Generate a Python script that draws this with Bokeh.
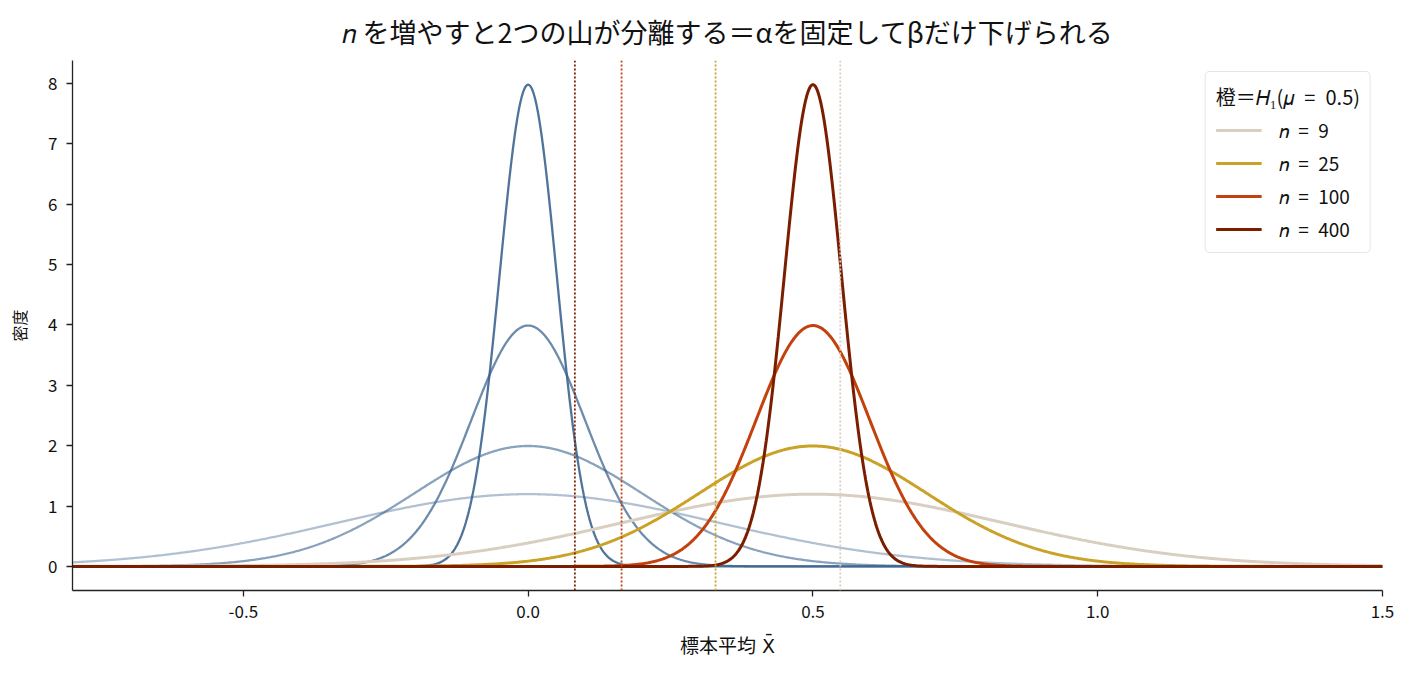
import numpy as np
from bokeh.plotting import figure
from bokeh.models import Span, FixedTicker, Legend, LegendItem, Range1d
from bokeh.embed import file_html
from bokeh.resources import INLINE

# ---- data ----
n_values = [9, 25, 100, 400]
mu0 = 0.0          # H0 mean
mu1 = 0.5          # H1 mean
sigma = 1.0        # population sd
crit_values = [0.548, 0.329, 0.164, 0.082]   # one-sided alpha=0.05 cut-offs
legend_labels = ["𝑛\u2002=\u20029", "𝑛\u2002=\u200225", "𝑛\u2002=\u2002100", "𝑛\u2002=\u2002400"]
x_ticks = [-0.5, 0.0, 0.5, 1.0, 1.5]
x_tick_labels = ["-0.5", "0.0", "0.5", "1.0", "1.5"]
y_ticks = [0, 1, 2, 3, 4, 5, 6, 7, 8]

# ---- styles ----
h1_colors = ["#d9cfc1", "#c9a227", "#c2410c", "#7b1e00"]
h0_color = "#3c648f"
h0_alphas = [0.4, 0.6, 0.75, 0.9]
FONT = "Noto Sans CJK JP"

x = np.linspace(-0.8, 1.5, 1200)


def pdf(xx, mu, se):
    return np.exp(-0.5 * ((xx - mu) / se) ** 2) / (se * np.sqrt(2 * np.pi))


p = figure(width=1394, height=658, output_backend="svg", toolbar_location=None,
           x_range=Range1d(-0.8, 1.5), y_range=Range1d(-0.399, 8.379),
           frame_width=1310, frame_height=530)
p.min_border_left = 72
p.min_border_right = 12
p.min_border_bottom = 60
p.min_border_top = 59

p.title.text = "𝑛 を増やすと2つの山が分離する＝αを固定してβだけ下げられる"
p.title.align = "center"
p.title.text_font = FONT
p.title.text_font_size = "27px"
p.title.text_font_style = "normal"
p.title.text_color = "#111111"
p.title.standoff = 19

p.grid.visible = False
p.outline_line_color = None
p.background_fill_color = "white"
p.border_fill_color = "white"

for ax in (p.xaxis[0], p.yaxis[0]):
    ax.axis_line_color = "#222222"
    ax.axis_line_width = 1.3
    ax.major_tick_line_color = "#222222"
    ax.major_tick_line_width = 1.3
    ax.major_tick_out = 6
    ax.major_tick_in = 0
    ax.minor_tick_line_color = None
    ax.major_label_text_font = FONT
    ax.major_label_text_font_size = "17px"
    ax.major_label_text_color = "#111111"
    ax.axis_label_text_font = FONT
    ax.axis_label_text_font_style = "normal"
    ax.axis_label_text_color = "#111111"

p.xaxis.ticker = FixedTicker(ticks=x_ticks)
p.xaxis.major_label_overrides = {t: l for t, l in zip(x_ticks, x_tick_labels)}
p.xaxis.major_label_standoff = 8
p.xaxis.axis_label_standoff = 14
p.xaxis.axis_label_text_font_size = "19px"
p.xaxis.axis_label_text_font = "DejaVu Sans, Noto Sans CJK JP"
p.yaxis.ticker = FixedTicker(ticks=y_ticks)
p.yaxis.major_label_standoff = 9
p.yaxis.axis_label_standoff = 14
p.yaxis.axis_label_text_font_size = "16px"
p.xaxis.axis_label = "標本平均 X̄"
p.yaxis.axis_label = "密度"

# H0 curves
for n, a in zip(n_values, h0_alphas):
    se = sigma / np.sqrt(n)
    p.line(x, pdf(x, mu0, se), line_color=h0_color, line_alpha=a, line_width=2.3)

# H1 curves
items = []
for n, c, lab in zip(n_values, h1_colors, legend_labels):
    se = sigma / np.sqrt(n)
    r = p.line(x, pdf(x, mu1, se), line_color=c, line_width=3.0)
    items.append(LegendItem(label=lab, renderers=[r]))

# critical value lines
for cv, c in zip(crit_values, h1_colors):
    p.add_layout(Span(location=cv, dimension="height", line_color=c,
                      line_width=1.8, line_dash="2 2"))

legend = Legend(items=items, location="top_right")
legend.title = "橙＝𝐻₁(𝜇\u2002=\u20020.5)"
legend.title_text_font = FONT
legend.title_text_font_size = "20px"
legend.title_text_font_style = "normal"
legend.title_text_color = "#111111"
legend.title_standoff = 5
legend.label_text_font = FONT
legend.label_text_font_size = "19px"
legend.label_text_color = "#111111"
legend.border_line_color = "#cccccc"
legend.border_line_width = 1.3
legend.border_radius = 5
legend.background_fill_alpha = 0.9
legend.glyph_width = 46
legend.glyph_height = 26
legend.label_standoff = 17
legend.label_height = 26
legend.spacing = 6
legend.padding = 10
legend.margin = 11
p.add_layout(legend, "center")

open("out.html", "w").write(file_html(p, INLINE))
